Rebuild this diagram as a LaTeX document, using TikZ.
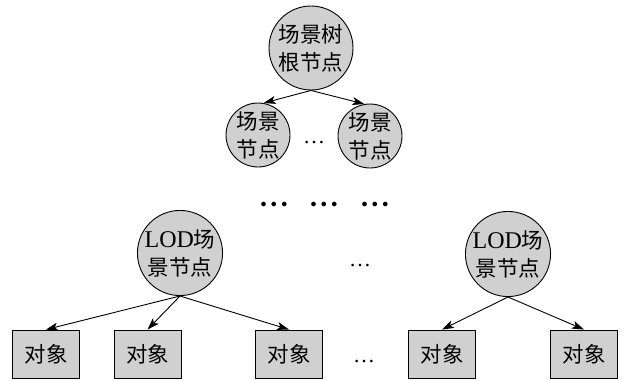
\documentclass[tikz,border=0pt]{standalone}
\usepackage{fontspec}
\setmainfont{Liberation Serif}
\newfontfamily\cjk{Noto Sans CJK SC}
\usetikzlibrary{arrows.meta}
\definecolor{nodegray}{RGB}{208,208,208}
\newcommand\bigdots{{\fontsize{13}{13}\selectfont$\mathord{\bullet}\kern4.5pt\mathord{\bullet}\kern4.5pt\mathord{\bullet}$}}
\begin{document}
\begin{tikzpicture}[x=1pt,y=-1pt,
  nd/.style={circle, draw, fill=nodegray, line width=0.9pt, inner sep=0pt, minimum size=#1, align=center, font=\cjk\fontsize{21.5}{28}\selectfont},
  obj/.style={rectangle, draw, fill=nodegray, line width=0.9pt, minimum width=67pt, minimum height=48pt, inner sep=0pt, font=\cjk\fontsize{21.5}{28}\selectfont},
  arr/.style={-{Stealth[length=12pt,width=8pt,inset=3pt]}, line width=0.9pt},
  dotsnode/.style={inner sep=0pt, font=\rmfamily\fontsize{22}{22}\selectfont},
]
\useasboundingbox (0,0) rectangle (626,380);
% tree root and scene nodes
\node[nd=84pt] (root) at (311,48) {场景树\\根节点};
\node[nd=64pt] (s1) at (258,135) {场景\\节点};
\node[nd=64pt] (s2) at (370,136) {场景\\节点};
\node[dotsnode] (d1) at (314,143) {…};
\draw[arr] (root.south) -- (s1.80);
\draw[arr] (root.south) -- (s2.100);
% bold dots
\node[inner sep=0pt] (b1) at (274,205) {\bigdots};
\node[inner sep=0pt] (b2) at (324,205) {\bigdots};
\node[inner sep=0pt] (b3) at (375,205) {\bigdots};
% LOD nodes
\node[nd=78pt] (lod1) at (180,253) {{\rmfamily\fontsize{24}{28}\selectfont LOD}场\\景节点};
\node[nd=78pt] (lod2) at (508,254) {{\rmfamily\fontsize{24}{28}\selectfont LOD}场\\景节点};
\node[dotsnode] (d2) at (360,266) {…};
% objects
\node[obj] (o1) at (46,354) {对象};
\node[obj] (o2) at (147.5,354) {对象};
\node[obj] (o3) at (289,354) {对象};
\node[obj] (o4) at (442,354) {对象};
\node[obj] (o5) at (584,354) {对象};
\node[dotsnode] (d3) at (364,362) {…};
\draw[arr] (lod1.south) -- (o1.north);
\draw[arr] (lod1.south) -- (o2.north);
\draw[arr] (lod1.south) -- (o3.north);
\draw[arr] (lod2.south) -- (o4.north);
\draw[arr] (lod2.south) -- (o5.north);
\end{tikzpicture}
\end{document}
